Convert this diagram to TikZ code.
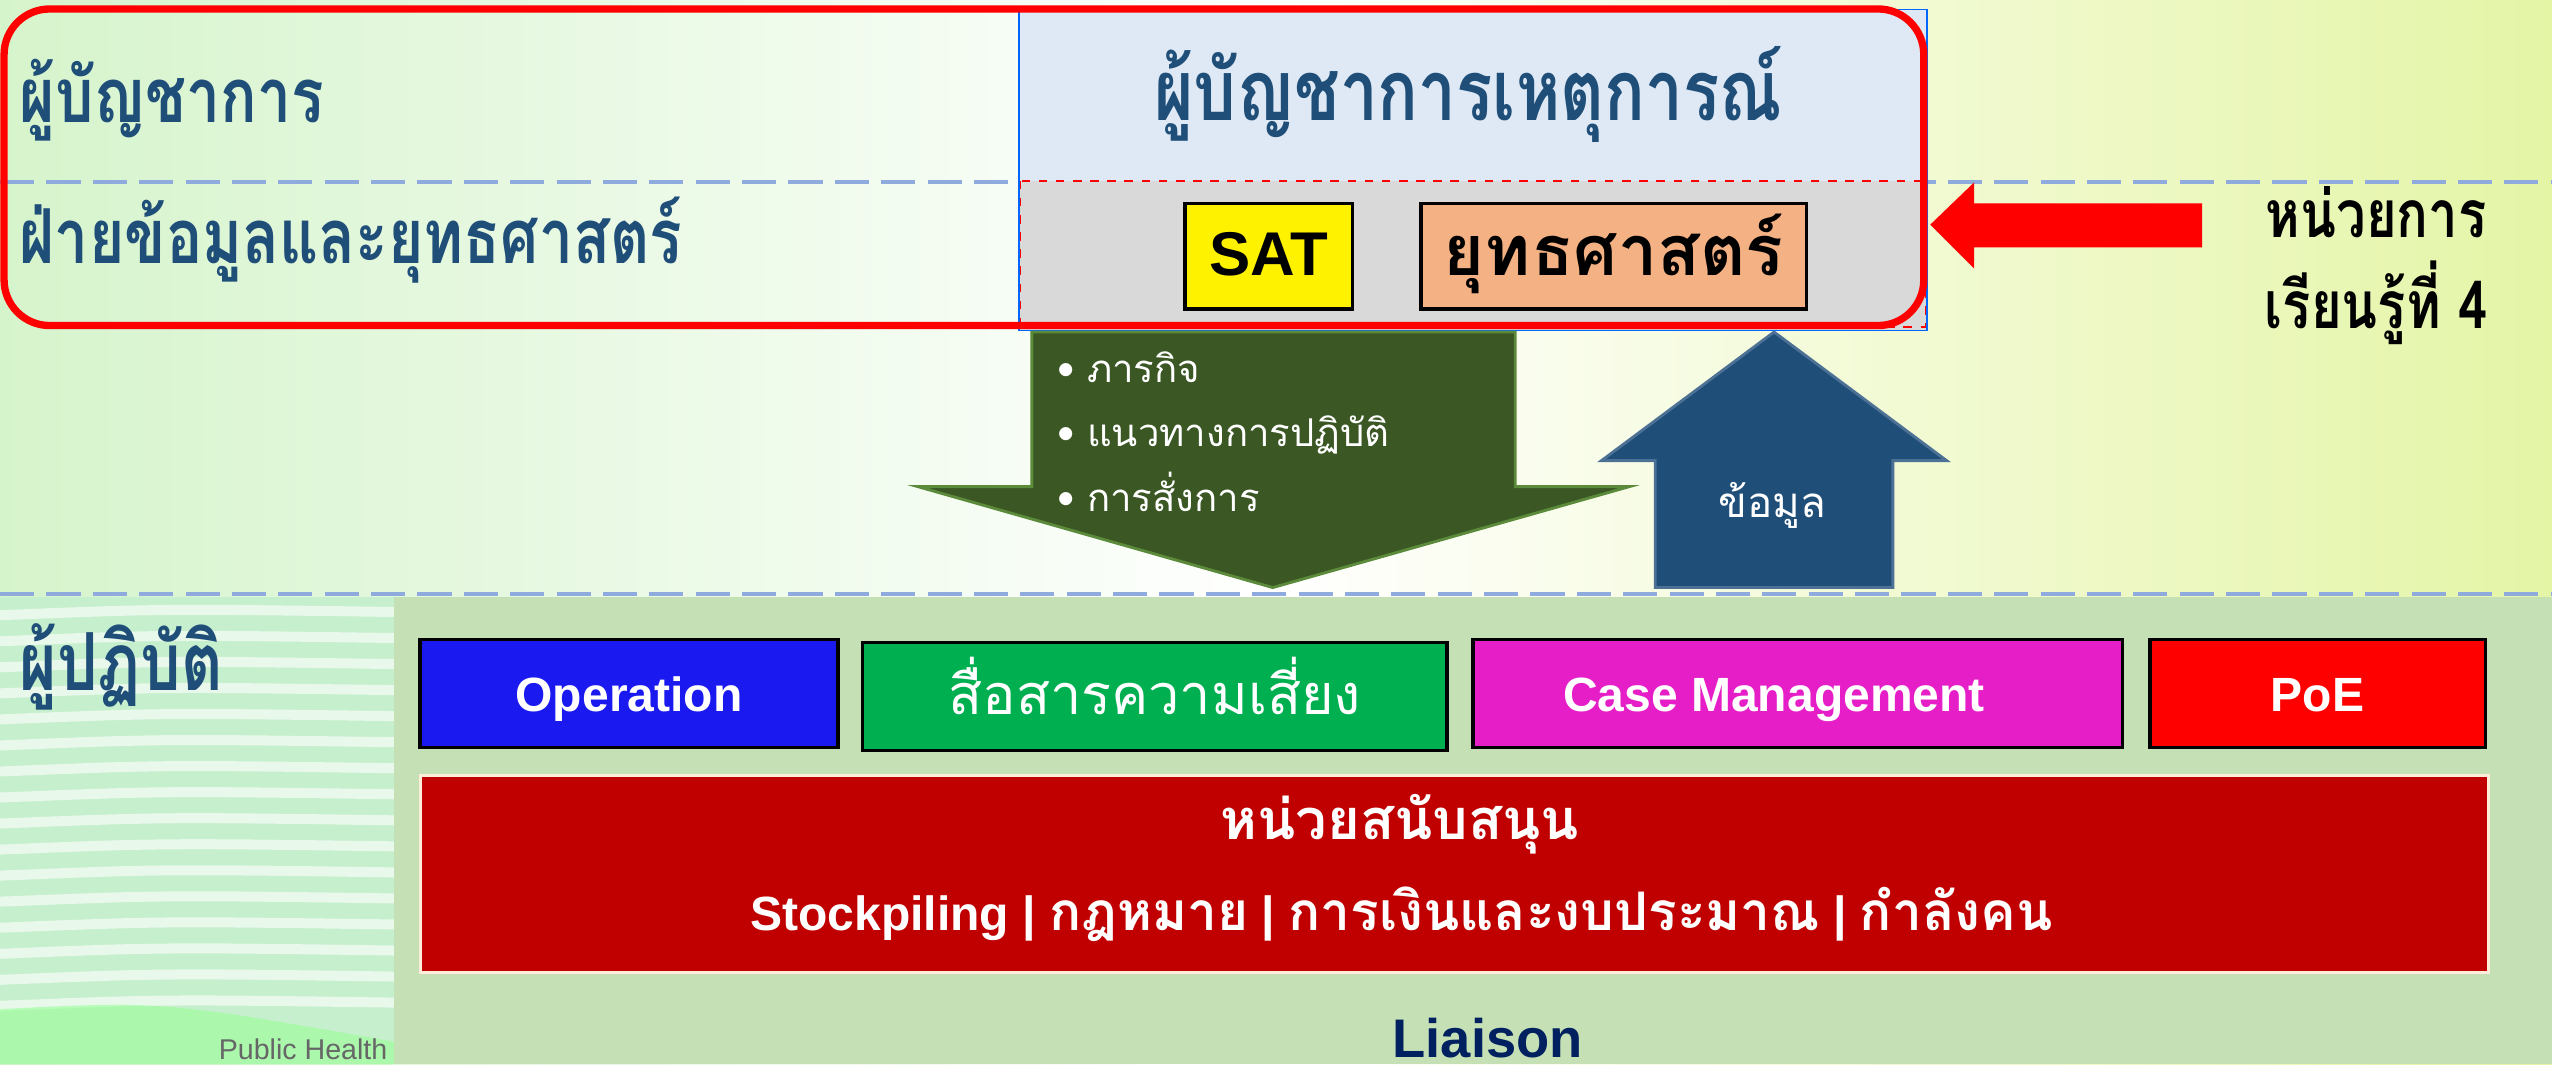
\documentclass[tikz,border=0pt]{standalone}
\usepackage{fontspec}
\setmainfont{Liberation Sans}
\newfontfamily\thai[Script=Thai]{Loma}
\newfontfamily\thaic[Script=Thai,FakeStretch=0.8]{Loma}
\usetikzlibrary{positioning}
\definecolor{hdblue}{HTML}{1F4E79}
\definecolor{cmdfill}{HTML}{DEE9F5}
\definecolor{grayfill}{HTML}{D9D9D9}
\definecolor{peach}{HTML}{F4B183}
\definecolor{olive}{HTML}{3A5724}
\definecolor{oliveedge}{HTML}{5B8A3A}
\definecolor{panel}{HTML}{C5E0B4}
\definecolor{opblue}{HTML}{1A1AF0}
\definecolor{riskgreen}{HTML}{00B050}
\definecolor{casemag}{HTML}{E61EC8}
\definecolor{suppred}{HTML}{C00000}
\definecolor{dashblue}{HTML}{8FAADC}
\definecolor{liaisonblue}{HTML}{002060}
\definecolor{bgleft}{HTML}{D6F4CC}
\definecolor{bgright}{HTML}{E4F5A6}
\definecolor{stripe}{HTML}{C6EFCD}
\begin{document}
\begin{tikzpicture}[x=0.02cm,y=-0.02cm,inner sep=0pt,outer sep=0pt,
lbl/.style={font=\thaic\bfseries\fontsize{26.5}{30}\selectfont,text=hdblue},
topbox/.style={draw=black,line width=1.3pt,minimum height=1.3cm,text height=0.48cm,text depth=0pt},
rowbox/.style={draw=black,line width=1.2pt,minimum height=1.33cm,text height=0.44cm,text depth=0pt,text=white,font=\bfseries\fontsize{16.8}{20}\selectfont},
sepline/.style={draw=dashblue,line width=1.4pt,dash pattern=on 0.42cm off 0.15cm},
bullet/.style={anchor=base west,text=white,font=\thai\fontsize{13.4}{16}\selectfont}]
\useasboundingbox (0,0) rectangle (1568,654);
% background
\shade[left color=bgleft,right color=bgright,middle color=white] (0,0) rectangle (1568,654);
\fill[stripe] (0,367) rectangle (242,654);
\foreach \y in {378,394,...,620} \draw[white,line width=3.5pt,opacity=0.6] (0,\y) .. controls (100,\y-4) .. (242,\y-2);
\fill[green!40!white,opacity=0.6] (0,620) .. controls (100,615) .. (242,640) -- (242,654) -- (0,654) -- cycle;
\node[anchor=base east,text=black!60,font=\fontsize{10}{12}\selectfont] (phealth) at (238,651) {Public Health};

\draw[sepline] (0,112) -- (1568,112);

% commander block
\fill[cmdfill] (626,6) rectangle (1184,111);
\fill[grayfill] (626,111) rectangle (1184,203);
\draw[red,line width=0.6pt,dashed] (627,111) rectangle (1183,201);
\draw[blue!60!cyan,line width=0.5pt] (626,6) rectangle (1184,203);
\draw[red,line width=0.09cm,rounded corners=0.56cm] (2.5,5.5) rectangle (1182,200);

\node[lbl,anchor=base west] (cmdlbl) at (12,75) {ผู้บัญชาการ};
\node[lbl,anchor=base west] (stratlbl) at (12,162) {ฝ่ายข้อมูลและยุทธศาสตร์};
\node[lbl,anchor=base,font=\thaic\bfseries\fontsize{29.5}{34}\selectfont] (ictitle) at (902,74) {ผู้บัญชาการเหตุการณ์};

\node[topbox,fill=yellow,minimum width=2.06cm,font=\bfseries\fontsize{21.6}{24}\selectfont] (sat) at (779.5,157.5) {SAT};
\node[topbox,fill=peach,minimum width=4.74cm,font=\thai\bfseries\fontsize{24.5}{28}\selectfont] (strat) at (991.5,157.5) {ยุทธศาสตร์};

% learning unit
\fill[red] (1186,138) -- (1213,112) -- (1213,125) -- (1353,125) -- (1353,152) -- (1213,152) -- (1213,165) -- cycle;
\node[anchor=base,font=\thaic\bfseries\fontsize{23}{27}\selectfont] (unit1) at (1460,146) {หน่วยการ};
\node[anchor=base,font=\thaic\bfseries\fontsize{23}{27}\selectfont] (unit2) at (1460,202) {เรียนรู้ที่ 4};

% down / up arrows
\filldraw[fill=olive,draw=oliveedge,line width=1pt] (634,204) -- (931,204) -- (931,299) -- (1001,299) -- (782,361) -- (564,299) -- (634,299) -- cycle;
\node[bullet] (b1) at (650,235) {\textbullet\hspace{4pt}ภารกิจ};
\node[bullet] (b2) at (650,274.5) {\textbullet\hspace{4pt}แนวทางการปฏิบัติ};
\node[bullet] (b3) at (650,314) {\textbullet\hspace{4pt}การสั่งการ};

\filldraw[fill=hdblue,draw=hdblue!80!white,line width=1pt] (1017,361) -- (1017,283) -- (984,283) -- (1090,204) -- (1196,283) -- (1163,283) -- (1163,361) -- cycle;
\node[anchor=base,text=white,font=\thai\fontsize{14.7}{17}\selectfont] (info) at (1089,318) {ข้อมูล};

% operators
\fill[panel] (242,367) rectangle (1568,654);
\draw[sepline] (0,365) -- (1568,365);
\node[lbl,anchor=base west,font=\thaic\bfseries\fontsize{28}{32}\selectfont] (oplbl) at (12,424) {ผู้ปฏิบัติ};

\node[rowbox,fill=opblue,minimum width=5.14cm] (oper) at (386.5,426) {Operation};
\node[rowbox,fill=riskgreen,minimum width=7.18cm,font=\thai\fontsize{19.5}{23}\selectfont] (risk) at (709.5,428) {สื่อสารความเสี่ยง};
\node[rowbox,fill=casemag,minimum width=7.98cm] (casem) at (1104.5,426) {};
\node[anchor=base,text=white,font=\bfseries\fontsize{16.8}{20}\selectfont] (casetxt) at (1090,437) {Case Management};
\node[rowbox,fill=red,minimum width=4.12cm] (poe) at (1424,426) {PoE};

\node[draw=orange!15!white,line width=1pt,fill=suppred,minimum width=25.42cm,minimum height=2.42cm] (support) at (893.5,537) {};
\node[anchor=base,text=white,font=\thai\bfseries\fontsize{19.6}{23}\selectfont] (supptitle) at (860,516) {หน่วยสนับสนุน};
\node[anchor=base,text=white,font=\bfseries\fontsize{16.8}{20}\selectfont] (supplist) at (861,572)
  {Stockpiling | {\thai\fontsize{18.6}{20}\selectfont กฎหมาย} | {\thai\fontsize{18.6}{20}\selectfont การเงินและงบประมาณ} | {\thai\fontsize{18.6}{20}\selectfont กำลังคน}};

\node[anchor=base,text=liaisonblue,font=\bfseries\fontsize{19}{22}\selectfont] (liaison) at (914,650) {Liaison};
\end{tikzpicture}
\end{document}
